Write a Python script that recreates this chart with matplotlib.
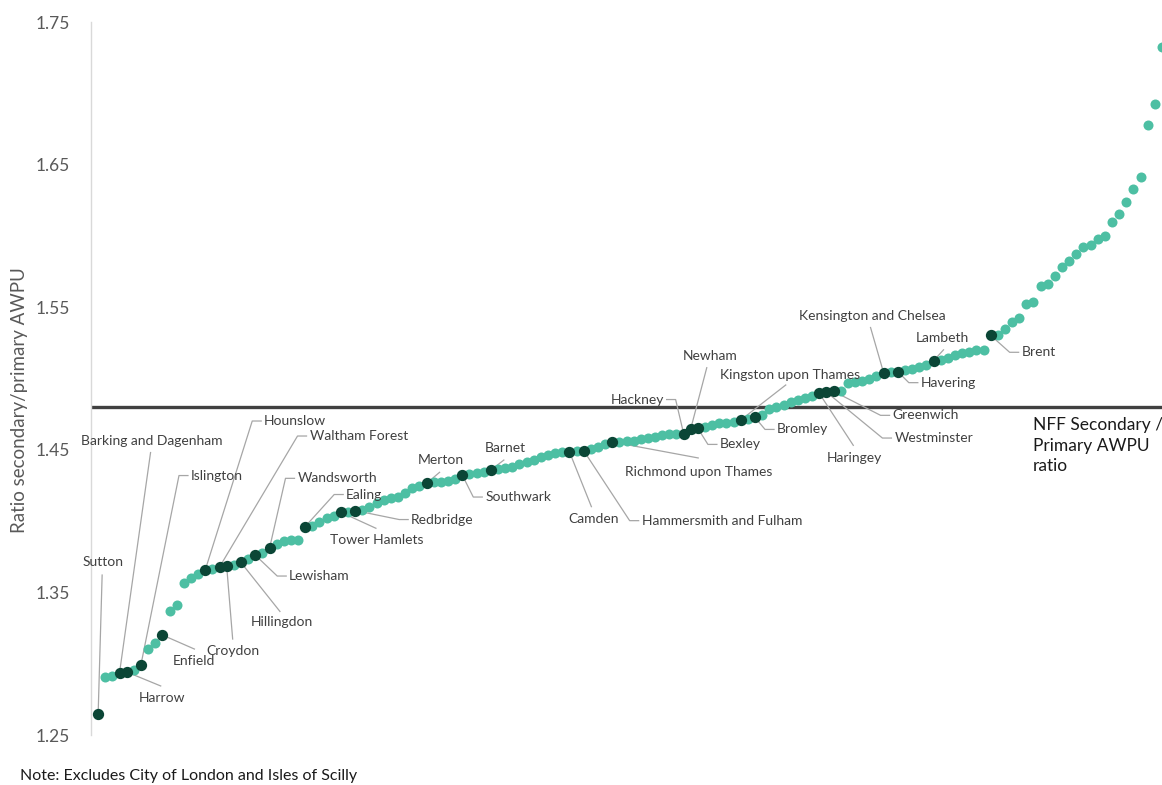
#!/usr/bin/env python3
"""
Secondary/primary AWPU ratio by local authority, London boroughs highlighted.
"""

import numpy as np
import matplotlib.pyplot as plt

plt.rcParams['font.family'] = ['Lato', 'DejaVu Sans']

# ratio for every local authority, sorted ascending
ratios = [
    1.2647, 1.2908, 1.2912, 1.2938, 1.2942, 1.2956, 1.2994, 1.3101, 1.3143, 1.3201,
    1.3372, 1.3412, 1.3566, 1.3599, 1.3629, 1.3657, 1.3664, 1.3678, 1.3685, 1.3692,
    1.3710, 1.3734, 1.3762, 1.3778, 1.3809, 1.3839, 1.3860, 1.3865, 1.3868, 1.3962,
    1.3966, 1.3996, 1.4020, 1.4036, 1.4062, 1.4066, 1.4074, 1.4078, 1.4101, 1.4125,
    1.4148, 1.4160, 1.4171, 1.4195, 1.4234, 1.4246, 1.4265, 1.4272, 1.4276, 1.4280,
    1.4293, 1.4323, 1.4330, 1.4335, 1.4345, 1.4358, 1.4363, 1.4374, 1.4381, 1.4398,
    1.4417, 1.4428, 1.4447, 1.4464, 1.4475, 1.4484, 1.4487, 1.4490, 1.4494, 1.4503,
    1.4522, 1.4539, 1.4555, 1.4557, 1.4559, 1.4564, 1.4574, 1.4581, 1.4592, 1.4604,
    1.4608, 1.4611, 1.4614, 1.4648, 1.4650, 1.4662, 1.4674, 1.4686, 1.4690, 1.4697,
    1.4709, 1.4716, 1.4727, 1.4744, 1.4786, 1.4798, 1.4814, 1.4837, 1.4849, 1.4861,
    1.4877, 1.4896, 1.4905, 1.4910, 1.4912, 1.4966, 1.4978, 1.4985, 1.4994, 1.5018,
    1.5042, 1.5046, 1.5048, 1.5060, 1.5070, 1.5083, 1.5095, 1.5124, 1.5133, 1.5147,
    1.5165, 1.5177, 1.5188, 1.5198, 1.5200, 1.5303, 1.5305, 1.5347, 1.5396, 1.5424,
    1.5522, 1.5536, 1.5649, 1.5663, 1.5719, 1.5782, 1.5824, 1.5873, 1.5922, 1.5936,
    1.5978, 1.6000, 1.6098, 1.6154, 1.6238, 1.6329, 1.6413, 1.6778, 1.6925, 1.7325,
]

# London boroughs and their rank in the sorted list
boroughs = [
    "Sutton", "Barking and Dagenham", "Harrow", "Islington", "Enfield",
    "Hounslow", "Waltham Forest", "Croydon", "Hillingdon", "Lewisham",
    "Wandsworth", "Ealing", "Tower Hamlets", "Redbridge", "Merton",
    "Southwark", "Barnet", "Camden", "Hammersmith and Fulham",
    "Richmond upon Thames", "Hackney", "Newham", "Bexley",
    "Kingston upon Thames", "Bromley", "Haringey", "Westminster", "Greenwich",
    "Kensington and Chelsea", "Havering", "Lambeth", "Brent",
]
borough_rank = [0, 3, 4, 6, 9, 15, 17, 18, 20, 22, 24, 29, 34, 36, 46, 51, 55,
                66, 68, 72, 82, 83, 84, 90, 92, 101, 102, 103, 110, 112, 117, 125]

nff_ratio = 1.48

# label placement in pixels relative to the point (image y goes down)
# "L": text left-aligned with short stub, "R": right-aligned, "T": centred text + leader end
label_layout = {
    "Sutton": ("T", 5, -152, 4, -139),
    "Barking and Dagenham": ("T", 32, -232, 31, -220),
    "Harrow": ("T", 35, 26, 34, 14),
    "Islington": ("L", 50, -189),
    "Enfield": ("T", 32, 26, 32, 14),
    "Hounslow": ("L", 59, -149),
    "Waltham Forest": ("L", 90, -131),
    "Croydon": ("T", 6, 85, 6, 73),
    "Hillingdon": ("T", 41, 60, 39, 49),
    "Lewisham": ("L", 34, 21),
    "Wandsworth": ("L", 28, -70),
    "Ealing": ("L", 41, -32),
    "Tower Hamlets": ("T", 36, 28, 35, 16),
    "Redbridge": ("L", 56, 9),
    "Merton": ("T", 14, -23, 13, -11),
    "Southwark": ("L", 23, 22),
    "Barnet": ("T", 14, -22, 13, -10),
    "Camden": ("T", 24, 67, 22, 55),
    "Hammersmith and Fulham": ("L", 58, 70),
    "Richmond upon Thames": ("T", 86, 30, 86, 16),
    "Hackney": ("R", -19, -34),
    "Newham": ("T", 19, -73, 16, -61),
    "Bexley": ("L", 22, 16),
    "Kingston upon Thames": ("T", 49, -45, 45, -35),
    "Bromley": ("L", 22, 12),
    "Haringey": ("T", 35, 65, 34, 52),
    "Westminster": ("L", 68, 46),
    "Greenwich": ("L", 59, 24),
    "Kensington and Chelsea": ("T", -11, -57, -13, -45),
    "Havering": ("L", 23, 11),
    "Lambeth": ("T", 9, -23, 10, -11),
    "Brent": ("L", 31, 17),
}

teal = '#4dbfa3'
dark = '#0b4636'
label_col = '#404040'
leader_col = '#a6a6a6'

fig = plt.figure(figsize=(11.62, 7.85), dpi=100)
ax = fig.add_axes([91 / 1162, 50 / 785, 1 - 91 / 1162, 713 / 785])

x = np.arange(len(ratios))
y = np.array(ratios)

ax.set_xlim(-1, len(ratios) - 1)
ax.set_ylim(1.25, 1.75)

ax.axhline(nff_ratio, color='#404040', lw=2.4, zorder=1)
ax.scatter(x, y, s=52, color=teal, linewidths=0, zorder=3, clip_on=False)
ax.scatter(x[borough_rank], y[borough_rank], s=66, color=dark, linewidths=0, zorder=4)

for s in ['top', 'right', 'bottom']:
    ax.spines[s].set_visible(False)
ax.spines['left'].set_color('#d9d9d9')
ax.spines['left'].set_linewidth(1)
ax.set_xticks([])
yt = np.arange(1.25, 1.76, 0.1)
ax.set_yticks(yt)
ax.set_yticklabels(['%.2f' % v for v in yt])
ax.tick_params(axis='y', length=0, pad=15, labelsize=12.5, labelcolor='#595959')


def offset(xd, yd, dx, dy):
    disp = ax.transData.transform((xd, yd))
    return ax.transData.inverted().transform((disp[0] + dx, disp[1] - dy))


for name, rank in zip(boroughs, borough_rank):
    px, py = x[rank], y[rank]
    lay = label_layout[name]
    style, dx, dy = lay[0], lay[1], lay[2]
    if style == "L":
        a = offset(px, py, dx - 12, dy)
        b = offset(px, py, dx - 3, dy)
        ax.plot([px, a[0], b[0]], [py, a[1], b[1]], color=leader_col, lw=0.9, zorder=2)
        t = offset(px, py, dx, dy)
        ax.text(t[0], t[1], name, ha='left', va='center', fontsize=10, color=label_col)
    elif style == "R":
        a = offset(px, py, dx + 11, dy)
        b = offset(px, py, dx + 2, dy)
        ax.plot([px, a[0], b[0]], [py, a[1], b[1]], color=leader_col, lw=0.9, zorder=2)
        t = offset(px, py, dx, dy)
        ax.text(t[0], t[1], name, ha='right', va='center', fontsize=10, color=label_col)
    else:
        a = offset(px, py, lay[3], lay[4])
        ax.plot([px, a[0]], [py, a[1]], color=leader_col, lw=0.9, zorder=2)
        t = offset(px, py, dx, dy)
        ax.text(t[0], t[1], name, ha='center', va='center', fontsize=10, color=label_col)

fig.text(1033 / 1162, 1 - 417 / 785, 'NFF Secondary /\nPrimary AWPU\nratio',
         ha='left', va='top', fontsize=12.5, linespacing=1.35, color='#1a1a1a')
fig.text(20 / 1162, 1 - 400 / 785, 'Ratio secondary/primary AWPU', rotation=90,
         ha='center', va='center', fontsize=13.5, color='#595959')
fig.text(20 / 1162, 1 - 776 / 785, 'Note: Excludes City of London and Isles of Scilly',
         ha='left', va='center', fontsize=11.5, color='#1a1a1a')

fig.savefig('out.png', dpi=100)
